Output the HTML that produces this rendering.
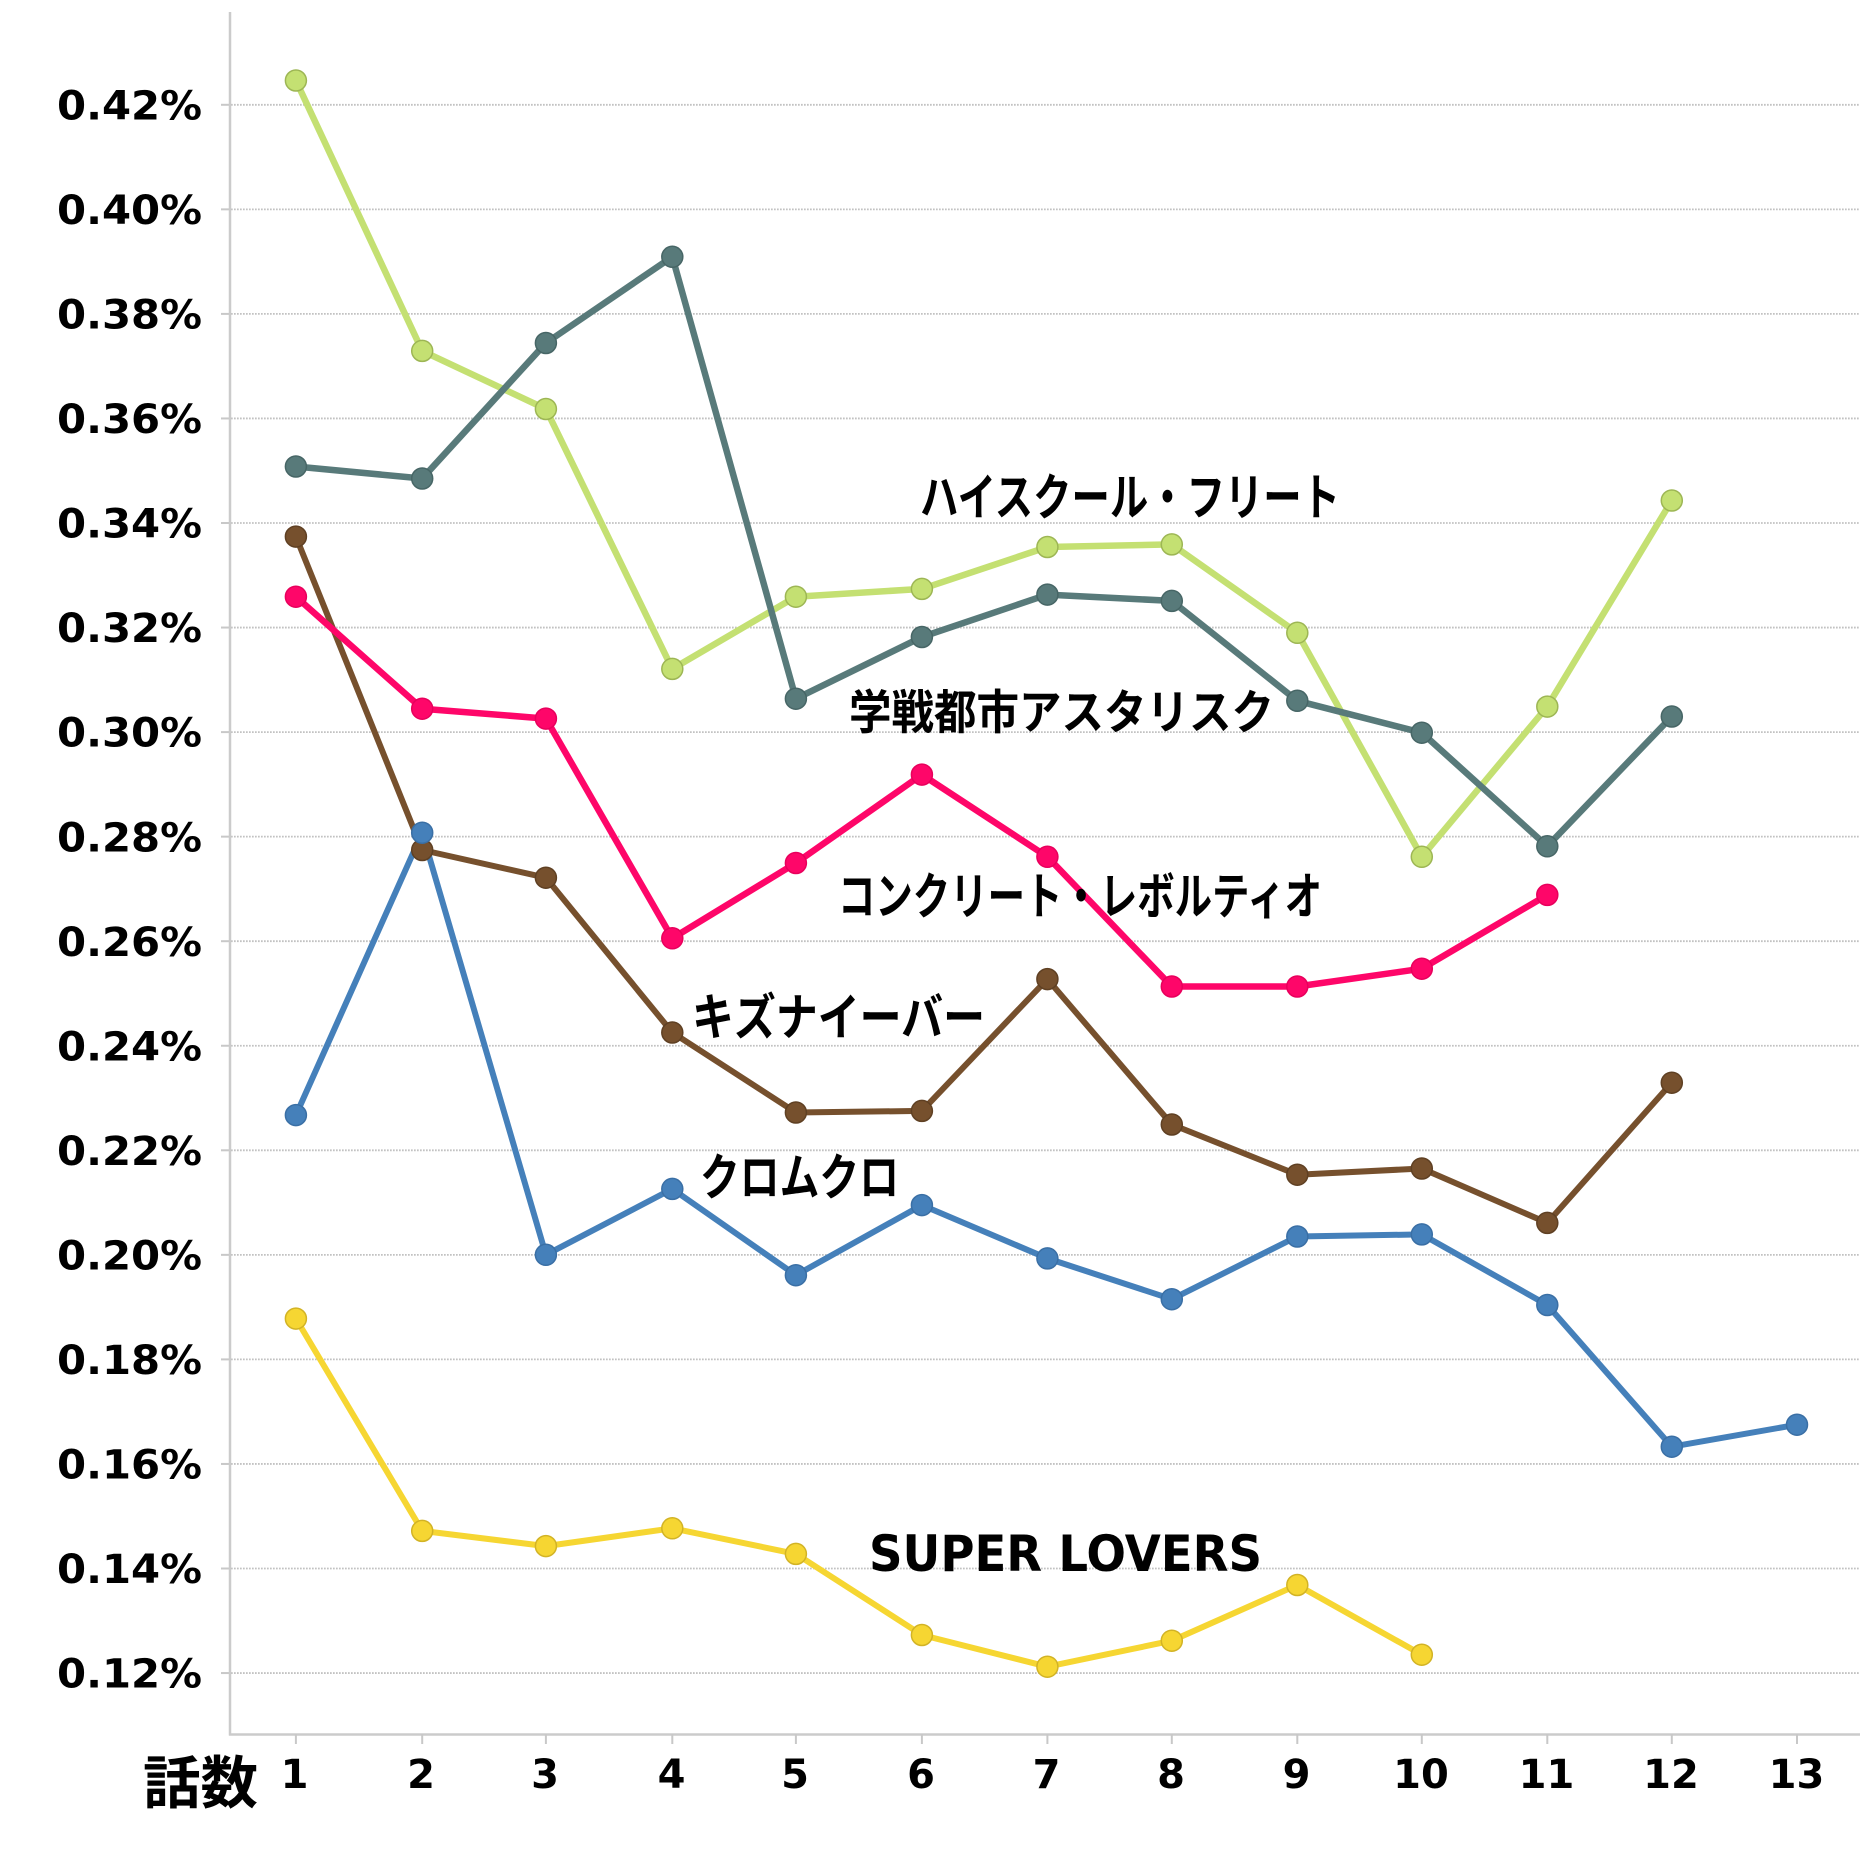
<!DOCTYPE html>
<html>
<head>
<meta charset="utf-8">
<style>
  html,body{margin:0;padding:0;background:#fff;}
  svg{display:block;}
  .num{font-family:"DejaVu Sans","Liberation Sans",sans-serif;font-weight:bold;font-size:40px;fill:#000;}
  .jp{font-family:"Liberation Sans","Noto Sans CJK JP",sans-serif;font-weight:bold;fill:#000;}
  .lat{font-family:"DejaVu Sans","Liberation Sans",sans-serif;font-weight:bold;fill:#000;}
</style>
</head>
<body>
<svg width="1860" height="1860" viewBox="0 0 1860 1860" xmlns="http://www.w3.org/2000/svg">
  <rect x="0" y="0" width="1860" height="1860" fill="#ffffff"/>

  <!-- gridlines -->
  <g stroke="#c2c2c2" stroke-width="1.8" stroke-dasharray="1.7 1.3">
    <line x1="231" y1="104.8" x2="1860" y2="104.8"/>
    <line x1="231" y1="209.35" x2="1860" y2="209.35"/>
    <line x1="231" y1="313.9" x2="1860" y2="313.9"/>
    <line x1="231" y1="418.45" x2="1860" y2="418.45"/>
    <line x1="231" y1="523.0" x2="1860" y2="523.0"/>
    <line x1="231" y1="627.55" x2="1860" y2="627.55"/>
    <line x1="231" y1="732.1" x2="1860" y2="732.1"/>
    <line x1="231" y1="836.65" x2="1860" y2="836.65"/>
    <line x1="231" y1="941.2" x2="1860" y2="941.2"/>
    <line x1="231" y1="1045.75" x2="1860" y2="1045.75"/>
    <line x1="231" y1="1150.3" x2="1860" y2="1150.3"/>
    <line x1="231" y1="1254.85" x2="1860" y2="1254.85"/>
    <line x1="231" y1="1359.4" x2="1860" y2="1359.4"/>
    <line x1="231" y1="1463.95" x2="1860" y2="1463.95"/>
    <line x1="231" y1="1568.5" x2="1860" y2="1568.5"/>
    <line x1="231" y1="1673.05" x2="1860" y2="1673.05"/>
  </g>

  <!-- y tick marks -->
  <g stroke="#c8c8c8" stroke-width="2">
    <line x1="221" y1="104.8" x2="230" y2="104.8"/>
    <line x1="221" y1="209.35" x2="230" y2="209.35"/>
    <line x1="221" y1="313.9" x2="230" y2="313.9"/>
    <line x1="221" y1="418.45" x2="230" y2="418.45"/>
    <line x1="221" y1="523.0" x2="230" y2="523.0"/>
    <line x1="221" y1="627.55" x2="230" y2="627.55"/>
    <line x1="221" y1="732.1" x2="230" y2="732.1"/>
    <line x1="221" y1="836.65" x2="230" y2="836.65"/>
    <line x1="221" y1="941.2" x2="230" y2="941.2"/>
    <line x1="221" y1="1045.75" x2="230" y2="1045.75"/>
    <line x1="221" y1="1150.3" x2="230" y2="1150.3"/>
    <line x1="221" y1="1254.85" x2="230" y2="1254.85"/>
    <line x1="221" y1="1359.4" x2="230" y2="1359.4"/>
    <line x1="221" y1="1463.95" x2="230" y2="1463.95"/>
    <line x1="221" y1="1568.5" x2="230" y2="1568.5"/>
    <line x1="221" y1="1673.05" x2="230" y2="1673.05"/>
  </g>

  <!-- axes -->
  <line x1="230" y1="12" x2="230" y2="1735.5" stroke="#cbcbcb" stroke-width="2.5"/>
  <line x1="229" y1="1734.5" x2="1860" y2="1734.5" stroke="#cbcbcb" stroke-width="2.5"/>
  <g stroke="#c8c8c8" stroke-width="2">
    <line x1="295.9" y1="1734" x2="295.9" y2="1744"/>
    <line x1="422.2" y1="1734" x2="422.2" y2="1744"/>
    <line x1="545.9" y1="1734" x2="545.9" y2="1744"/>
    <line x1="672.3" y1="1734" x2="672.3" y2="1744"/>
    <line x1="795.9" y1="1734" x2="795.9" y2="1744"/>
    <line x1="921.9" y1="1734" x2="921.9" y2="1744"/>
    <line x1="1047.4" y1="1734" x2="1047.4" y2="1744"/>
    <line x1="1171.8" y1="1734" x2="1171.8" y2="1744"/>
    <line x1="1297.3" y1="1734" x2="1297.3" y2="1744"/>
    <line x1="1421.8" y1="1734" x2="1421.8" y2="1744"/>
    <line x1="1547.3" y1="1734" x2="1547.3" y2="1744"/>
    <line x1="1671.8" y1="1734" x2="1671.8" y2="1744"/>
    <line x1="1797.0" y1="1734" x2="1797.0" y2="1744"/>
  </g>

  <!-- y labels -->
  <g class="num">
    <text x="57" y="119.4" textLength="145" lengthAdjust="spacingAndGlyphs">0.42%</text>
    <text x="57" y="223.95" textLength="145" lengthAdjust="spacingAndGlyphs">0.40%</text>
    <text x="57" y="328.5" textLength="145" lengthAdjust="spacingAndGlyphs">0.38%</text>
    <text x="57" y="433.05" textLength="145" lengthAdjust="spacingAndGlyphs">0.36%</text>
    <text x="57" y="537.6" textLength="145" lengthAdjust="spacingAndGlyphs">0.34%</text>
    <text x="57" y="642.15" textLength="145" lengthAdjust="spacingAndGlyphs">0.32%</text>
    <text x="57" y="746.7" textLength="145" lengthAdjust="spacingAndGlyphs">0.30%</text>
    <text x="57" y="851.25" textLength="145" lengthAdjust="spacingAndGlyphs">0.28%</text>
    <text x="57" y="955.8" textLength="145" lengthAdjust="spacingAndGlyphs">0.26%</text>
    <text x="57" y="1060.35" textLength="145" lengthAdjust="spacingAndGlyphs">0.24%</text>
    <text x="57" y="1164.9" textLength="145" lengthAdjust="spacingAndGlyphs">0.22%</text>
    <text x="57" y="1269.45" textLength="145" lengthAdjust="spacingAndGlyphs">0.20%</text>
    <text x="57" y="1374.0" textLength="145" lengthAdjust="spacingAndGlyphs">0.18%</text>
    <text x="57" y="1478.55" textLength="145" lengthAdjust="spacingAndGlyphs">0.16%</text>
    <text x="57" y="1583.1" textLength="145" lengthAdjust="spacingAndGlyphs">0.14%</text>
    <text x="57" y="1687.65" textLength="145" lengthAdjust="spacingAndGlyphs">0.12%</text>
  </g>

  <!-- x labels -->
  <g class="num" text-anchor="middle">
    <text x="294.5" y="1788">1</text>
    <text x="421" y="1788">2</text>
    <text x="545" y="1788">3</text>
    <text x="671.5" y="1788">4</text>
    <text x="795" y="1788">5</text>
    <text x="921" y="1788">6</text>
    <text x="1046.5" y="1788">7</text>
    <text x="1171" y="1788">8</text>
    <text x="1296.5" y="1788">9</text>
    <text x="1421" y="1788">10</text>
    <text x="1546.5" y="1788">11</text>
    <text x="1671" y="1788">12</text>
    <text x="1796.5" y="1788">13</text>
  </g>
  <text class="jp" x="143" y="1803" font-size="57" textLength="115" lengthAdjust="spacingAndGlyphs">話数</text>

  <!-- series lines -->
  <g fill="none" stroke-linejoin="round" stroke-linecap="round">
    <polyline stroke="#f6d632" stroke-width="6" points="295.9,1318.6 422.2,1530.9 545.9,1546.1 672.3,1528.3 795.9,1553.9 921.9,1635 1047.4,1666.7 1171.8,1640.7 1297.3,1585 1421.8,1654.7"/>
    <polyline stroke="#76502d" stroke-width="6" points="295.9,536.6 422.2,850 545.9,877.7 672.3,1032.5 795.9,1112.5 921.9,1110.9 1047.4,979.1 1171.8,1124.5 1297.3,1174.7 1421.8,1168.5 1547.3,1222.9 1671.8,1082.7"/>
    <polyline stroke="#4580ba" stroke-width="6" points="295.9,1115.1 422.2,832.7 545.9,1254.8 672.3,1188.9 795.9,1275.2 921.9,1205.1 1047.4,1258.4 1171.8,1299.2 1297.3,1236.5 1421.8,1234.4 1547.3,1305 1671.8,1446.7 1797,1424.7"/>
    <polyline stroke="#fe0669" stroke-width="6.5" points="295.9,596.7 422.2,708.7 545.9,718.6 672.3,938.3 795.9,863 921.9,774.6 1047.4,856.8 1171.8,986.5 1297.3,986.5 1421.8,968.7 1547.3,894.9"/>
    <polyline stroke="#c4e072" stroke-width="6.5" points="295.9,80.5 422.2,350.9 545.9,409 672.3,668.9 795.9,596.7 921.9,588.9 1047.4,547 1171.8,544.4 1297.3,632.8 1421.8,856.8 1547.3,706.6 1671.8,500.5"/>
    <polyline stroke="#587a7a" stroke-width="6.5" points="295.9,466.5 422.2,478.5 545.9,343 672.3,256.8 795.9,698.7 921.9,637 1047.4,594.6 1171.8,600.9 1297.3,700.8 1421.8,732.7 1547.3,846.3 1671.8,716.5"/>
  </g>

  <!-- markers -->
  <g fill="#f6d632" stroke="#d2b325" stroke-width="1.5">
    <circle cx="295.9" cy="1318.6" r="10.5"/><circle cx="422.2" cy="1530.9" r="10.5"/><circle cx="545.9" cy="1546.1" r="10.5"/><circle cx="672.3" cy="1528.3" r="10.5"/><circle cx="795.9" cy="1553.9" r="10.5"/><circle cx="921.9" cy="1635" r="10.5"/><circle cx="1047.4" cy="1666.7" r="10.5"/><circle cx="1171.8" cy="1640.7" r="10.5"/><circle cx="1297.3" cy="1585" r="10.5"/><circle cx="1421.8" cy="1654.7" r="10.5"/>
  </g>
  <g fill="#76502d" stroke="#5f4023" stroke-width="1.5">
    <circle cx="295.9" cy="536.6" r="10.5"/><circle cx="422.2" cy="850" r="10.5"/><circle cx="545.9" cy="877.7" r="10.5"/><circle cx="672.3" cy="1032.5" r="10.5"/><circle cx="795.9" cy="1112.5" r="10.5"/><circle cx="921.9" cy="1110.9" r="10.5"/><circle cx="1047.4" cy="979.1" r="10.5"/><circle cx="1171.8" cy="1124.5" r="10.5"/><circle cx="1297.3" cy="1174.7" r="10.5"/><circle cx="1421.8" cy="1168.5" r="10.5"/><circle cx="1547.3" cy="1222.9" r="10.5"/><circle cx="1671.8" cy="1082.7" r="10.5"/>
  </g>
  <g fill="#4580ba" stroke="#3a6fa5" stroke-width="1.5">
    <circle cx="295.9" cy="1115.1" r="10.5"/><circle cx="422.2" cy="832.7" r="10.5"/><circle cx="545.9" cy="1254.8" r="10.5"/><circle cx="672.3" cy="1188.9" r="10.5"/><circle cx="795.9" cy="1275.2" r="10.5"/><circle cx="921.9" cy="1205.1" r="10.5"/><circle cx="1047.4" cy="1258.4" r="10.5"/><circle cx="1171.8" cy="1299.2" r="10.5"/><circle cx="1297.3" cy="1236.5" r="10.5"/><circle cx="1421.8" cy="1234.4" r="10.5"/><circle cx="1547.3" cy="1305" r="10.5"/><circle cx="1671.8" cy="1446.7" r="10.5"/><circle cx="1797" cy="1424.7" r="10.5"/>
  </g>
  <g fill="#fe0669" stroke="#e8005c" stroke-width="1.5">
    <circle cx="295.9" cy="596.7" r="10.5"/><circle cx="422.2" cy="708.7" r="10.5"/><circle cx="545.9" cy="718.6" r="10.5"/><circle cx="672.3" cy="938.3" r="10.5"/><circle cx="795.9" cy="863" r="10.5"/><circle cx="921.9" cy="774.6" r="10.5"/><circle cx="1047.4" cy="856.8" r="10.5"/><circle cx="1171.8" cy="986.5" r="10.5"/><circle cx="1297.3" cy="986.5" r="10.5"/><circle cx="1421.8" cy="968.7" r="10.5"/><circle cx="1547.3" cy="894.9" r="10.5"/>
  </g>
  <g fill="#c4e072" stroke="#9db654" stroke-width="1.5">
    <circle cx="295.9" cy="80.5" r="10.5"/><circle cx="422.2" cy="350.9" r="10.5"/><circle cx="545.9" cy="409" r="10.5"/><circle cx="672.3" cy="668.9" r="10.5"/><circle cx="795.9" cy="596.7" r="10.5"/><circle cx="921.9" cy="588.9" r="10.5"/><circle cx="1047.4" cy="547" r="10.5"/><circle cx="1171.8" cy="544.4" r="10.5"/><circle cx="1297.3" cy="632.8" r="10.5"/><circle cx="1421.8" cy="856.8" r="10.5"/><circle cx="1547.3" cy="706.6" r="10.5"/><circle cx="1671.8" cy="500.5" r="10.5"/>
  </g>
  <g fill="#587a7a" stroke="#476666" stroke-width="1.5">
    <circle cx="295.9" cy="466.5" r="10.5"/><circle cx="422.2" cy="478.5" r="10.5"/><circle cx="545.9" cy="343" r="10.5"/><circle cx="672.3" cy="256.8" r="10.5"/><circle cx="795.9" cy="698.7" r="10.5"/><circle cx="921.9" cy="637" r="10.5"/><circle cx="1047.4" cy="594.6" r="10.5"/><circle cx="1171.8" cy="600.9" r="10.5"/><circle cx="1297.3" cy="700.8" r="10.5"/><circle cx="1421.8" cy="732.7" r="10.5"/><circle cx="1547.3" cy="846.3" r="10.5"/><circle cx="1671.8" cy="716.5" r="10.5"/>
  </g>

  <!-- series labels -->
  <text class="jp" x="920" y="515" font-size="50" textLength="420" lengthAdjust="spacingAndGlyphs">ハイスクール・フリート</text>
  <text class="jp" x="849" y="729" font-size="47" textLength="425" lengthAdjust="spacingAndGlyphs">学戦都市アスタリスク</text>
  <text class="jp" x="838" y="914" font-size="50" textLength="484" lengthAdjust="spacingAndGlyphs">コンクリート・レボルティオ</text>
  <text class="jp" x="692" y="1035" font-size="50" textLength="293" lengthAdjust="spacingAndGlyphs">キズナイーバー</text>
  <text class="jp" x="700" y="1195" font-size="50" textLength="199" lengthAdjust="spacingAndGlyphs">クロムクロ</text>
  <text class="lat" x="869" y="1571" font-size="50" textLength="393" lengthAdjust="spacingAndGlyphs">SUPER LOVERS</text>
</svg>
</body>
</html>
